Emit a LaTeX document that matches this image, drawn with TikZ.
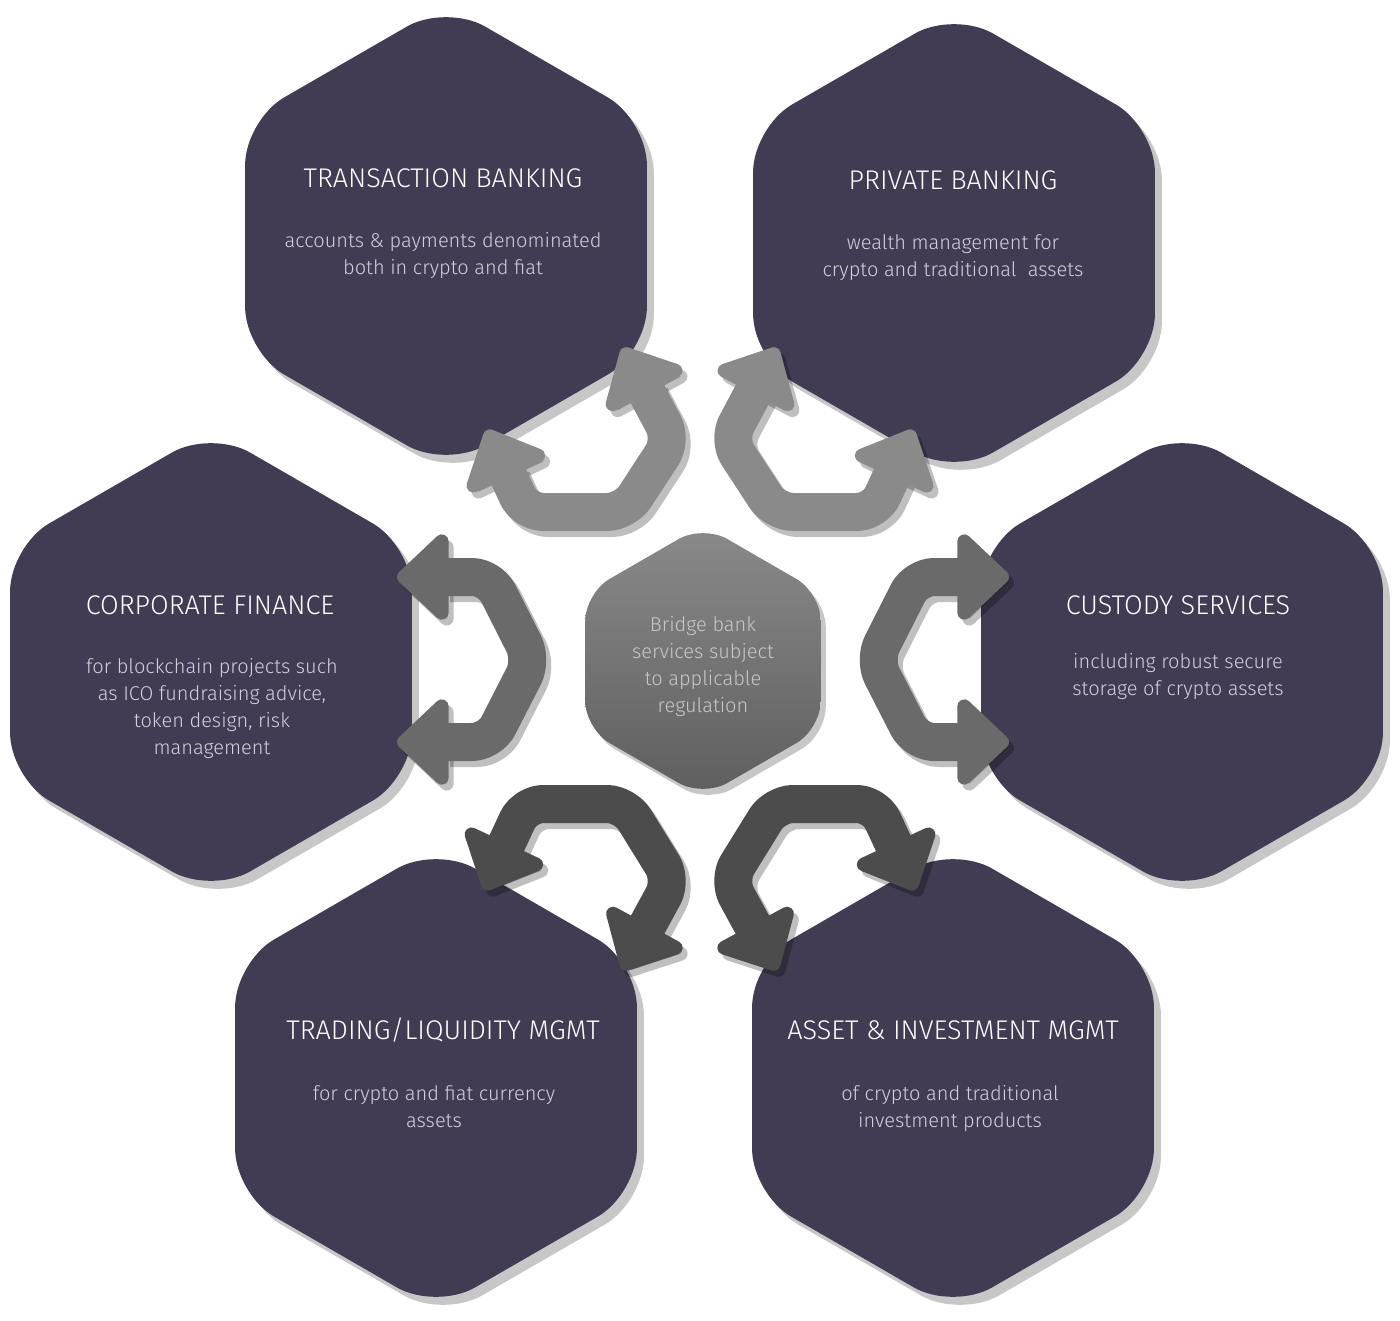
\documentclass[tikz,border=0pt]{standalone}
\usepackage{fontspec}
\setmainfont{Fira Sans Light}
\usetikzlibrary{arrows.meta}
\definecolor{hexfill}{HTML}{413B54}
\definecolor{desc}{HTML}{D2D0DC}
\definecolor{arrA}{HTML}{8A8A8A}
\definecolor{arrB}{HTML}{6A6A6A}
\definecolor{arrC}{HTML}{4C4C4C}
\newcommand{\hexpath}[3]{(#1+0,#2-#3) -- (#1+0.866*#3,#2-0.5*#3) -- (#1+0.866*#3,#2+0.5*#3) -- (#1+0,#2+#3) -- (#1-0.866*#3,#2+0.5*#3) -- (#1-0.866*#3,#2-0.5*#3) -- cycle}
\newcommand{\bighex}[3]{%
  \fill[black,opacity=0.22,rounded corners=45pt,shift={(7,8)}] \hexpath{#1}{#2}{232};
  \fill[hexfill,rounded corners=45pt] \hexpath{#1}{#2}{232};
  \coordinate (#3) at (#1,#2);}
\newcommand{\bigarrow}[2]{%
  \draw[black,opacity=0.25,shift={(5,6)},arw] #2;
  \draw[#1,arw] #2;}
\tikzset{
  arw/.style={line width=38pt,rounded corners=18pt,line join=round,
    {Triangle[length=55pt 0 0,width=100pt 0,round]}-{Triangle[length=55pt 0 0,width=100pt 0,round]}},
  ttl/.style={text=white,font=\fontsize{27}{32}\selectfont,inner sep=0pt},
  dsc/.style={text=desc,font=\fontsize{20}{27}\selectfont,align=center,inner sep=0pt},
}
\begin{document}
\begin{tikzpicture}[x=1pt,y=-1pt]
\useasboundingbox (0,0) rectangle (1400,1321);
\bighex{446}{236}{tb}
\bighex{954}{243}{pb}
\bighex{211}{662}{cf}
\bighex{1182}{662}{cs}
\bighex{436}{1078}{tl}
\bighex{953}{1078}{am}
% center hexagon
\fill[black,opacity=0.22,rounded corners=28pt,shift={(5,6)}] \hexpath{703}{661}{136};
\shade[top color=arrA,bottom color=arrC!90,rounded corners=28pt] \hexpath{703}{661}{136};
\coordinate (ctr) at (703,661);
% arrows
\bigarrow{arrA}{(487,430) -- (525,512) -- (625,512) -- (672,440) -- (623,348)}
\bigarrow{arrA}{(913,430) -- (875,512) -- (775,512) -- (728,440) -- (777,348)}
\bigarrow{arrB}{(397,577) -- (490,577) -- (532,660) -- (490,742) -- (397,742)}
\bigarrow{arrB}{(1009,577) -- (916,577) -- (874,660) -- (916,742) -- (1009,742)}
\bigarrow{arrC}{(485,890) -- (525,804) -- (625,804) -- (672,880) -- (623,970)}
\bigarrow{arrC}{(915,890) -- (875,804) -- (775,804) -- (728,880) -- (777,970)}
% texts
\node[ttl] (tbt) at (443,178) {TRANSACTION BANKING};
\node[dsc] (tbd) at (443,256) {accounts \& payments denominated\\both in crypto and fiat};
\node[ttl] (pbt) at (953,180) {PRIVATE BANKING};
\node[dsc] (pbd) at (953,258) {wealth management for\\crypto and traditional\ \ assets};
\node[ttl] (cft) at (210,605) {CORPORATE FINANCE};
\node[dsc] (cfd) at (212,709) {for blockchain projects such\\as ICO fundraising advice,\\token design, risk\\management};
\node[ttl] (cst) at (1178,605) {CUSTODY SERVICES};
\node[dsc] (csd) at (1178,677) {including robust secure\\storage of crypto assets};
\node[ttl] (tlt) at (443,1030) {TRADING/LIQUIDITY MGMT};
\node[dsc] (tld) at (434,1107) {for crypto and fiat currency\\assets};
\node[ttl] (amt) at (953,1030) {ASSET \& INVESTMENT MGMT};
\node[dsc] (amd) at (950,1109) {of crypto and traditional\\investment products};
\node[dsc,text=black!22] (ctt) at (703,667) {Bridge bank\\services subject\\to applicable\\regulation};
\end{tikzpicture}
\end{document}
